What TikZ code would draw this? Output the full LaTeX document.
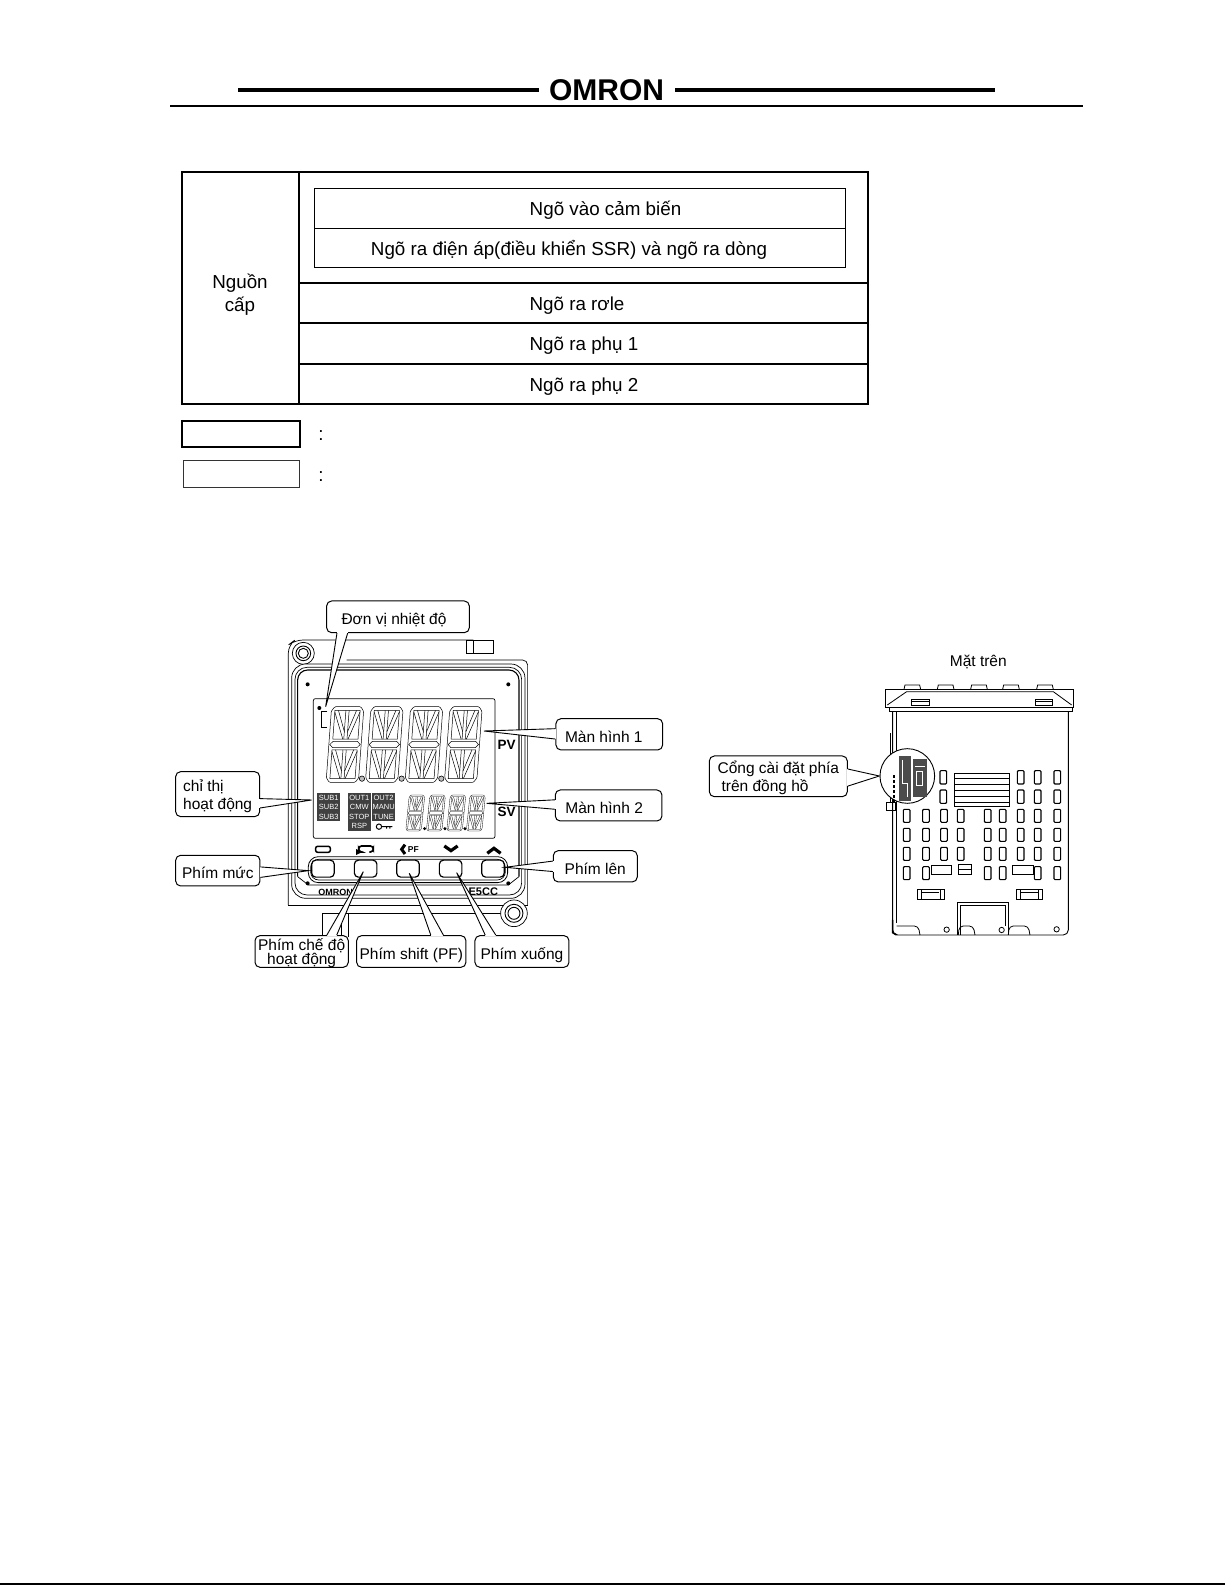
\documentclass[tikz,border=0pt]{standalone}
\usepackage{fontspec}
\setmainfont{Liberation Sans}
\tikzset{thick line/.style={line width=2.6pt}}
\tikzset{thin line/.style={line width=1pt}}
\tikzset{table text/.style={font=\fontsize{18.8}{23}\selectfont, align=center}}
\tikzset{tag box/.style={draw, line width=1pt, rounded corners=5pt, fill=white, inner sep=0pt,
	text height=#1, text depth=2.5pt, font=\fontsize{15.5}{18}\selectfont},
	tag box/.default=18pt}
\tikzset{lamp/.style={fill=black!75, text=white, inner sep=0pt, minimum width=22.5, minimum height=9.2,
	font=\fontsize{7.5}{8}\selectfont}}
\tikzset{key button/.style={draw, line width=1.2pt, rounded corners=4pt, inner sep=0pt, minimum width=22.5, minimum height=17}}
\tikzset{slot/.style={line width=1.1pt, rounded corners=1pt}}
\tikzset{digit/.pic={
	\draw[rounded corners=1pt] (.1,0)--(.9,0)--(1,.06)--(1,.94)--(.9,1)--(.1,1)--(0,.94)--(0,.06)--cycle;
	\draw (.03,.5)--(.12,.46)--(.88,.46)--(.97,.5)--(.88,.54)--(.12,.54)--cycle;
	\foreach \up in {0,.52} { % upper and lower half of the digit
		\draw (.11,\up+.05)--(.89,\up+.05)--(.89,\up+.43)--(.11,\up+.43)--cycle;
		\draw (.11,\up+.07)--(.42,\up+.43) (.22,\up+.05)--(.45,\up+.33);
		\draw (.89,\up+.07)--(.58,\up+.43) (.78,\up+.05)--(.55,\up+.33);
		\draw (.45,\up+.05)--(.45,\up+.43) (.55,\up+.05)--(.55,\up+.43);
	}
}}

\begin{document}
\begin{tikzpicture}[x=1pt, y=-1pt]
	\useasboundingbox (0,0) rectangle (1225,1585);

	% header
	\draw[line width=4.5pt] (238,90) -- (539,90);
	\draw[line width=4.5pt] (675,90) -- (995,90);
	\draw[line width=1.8pt] (170,106) -- (1083,106);
	\node[font=\fontsize{30}{30}\selectfont\bfseries, inner sep=0pt] (logo) at (606.5,90) {OMRON};
	\draw[line width=1.5pt] (0,1584) -- (1225,1584);

	% table of terminals
	\draw[thick line] (182,172) rectangle (868,404);
	\draw[thick line] (299,172) -- (299,404);
	\draw[thick line] (299,283) -- (868,283);
	\draw[thick line] (299,323) -- (868,323);
	\draw[thick line] (299,364) -- (868,364);
	\draw[thin line] (314,188) rectangle (845,267);
	\draw[thin line] (314,228) -- (845,228);
	\node[table text] (power) at (240,295) {Nguồn\\cấp};
	\node[table text] (sensor) at (605.5,210) {Ngõ vào cảm biến};
	\node[table text] (voltage) at (569,249.5) {Ngõ ra điện áp(điều khiển SSR) và ngõ ra dòng};
	\node[table text] (relay) at (577,306) {Ngõ ra rơle};
	\node[table text] (aux1) at (584,345.5) {Ngõ ra phụ 1};
	\node[table text] (aux2) at (584,387) {Ngõ ra phụ 2};
	\draw[thick line] (182,421) rectangle (300,447);
	\draw[thin line, black!80] (183,460) rectangle (299,487);
	\node[table text] (colon1) at (321,436) {:};
	\node[table text] (colon2) at (321,477) {:};

	% front panel, numbers read off the crop at 3x
	\begin{scope}[shift={(160,590)}, x=.3333pt, y=-.3333pt]
		\draw[line width=.7pt, rounded corners=8pt] (385,945) -- (385,165) -- (405,150) -- (940,150);
		\draw[line width=.7pt] (920,150) rectangle (1000,190) (940,150) -- (940,190);
		\draw[line width=.7pt, rounded corners=5pt] (560,210) -- (1103,210) -- (1103,945);
		\draw[line width=.7pt] (385,945) -- (1103,945);
		\draw[line width=.7pt] (488,1040) -- (488,970) -- (1030,970);
		\draw[line width=.7pt] (565,970) -- (565,1040) (545,970) -- (545,1040);
		\draw[line width=.7pt, fill=white] (430,190) circle[radius=33];
		\draw[line width=.9pt] (430,190) circle[radius=22] (430,190) circle[radius=15];
		\draw[line width=.7pt, fill=white] (1062,970) circle[radius=40];
		\draw[line width=.9pt] (1062,970) circle[radius=27] (1062,970) circle[radius=18];
		\draw[line width=.7pt, fill=white, rounded corners=14pt] (395,222) rectangle (1095,925);
		\draw[line width=.7pt, rounded corners=12pt] (405,232) rectangle (1085,915);
		\draw[line width=1.1pt, rounded corners=10pt] (413,860) -- (413,240) -- (1077,240) -- (1077,860);
		\draw[line width=.7pt] (413,860) -- (445,885) -- (1045,885) -- (1077,860);
		\foreach \a/\b in {443/283, 1045/283, 443/880, 1045/880} {
			\fill (\a,\b) circle[radius=6];
		}
		\draw[line width=.7pt, rounded corners=2pt] (460,326) rectangle (1005,745);
		\foreach \a in {515,633,752,870} {
			\begin{scope}[shift={(\a,350)}, x=32.3pt, y={(-5.6pt,-75.7pt)}]
				\pic[line width=.5pt] {digit};
			\end{scope}
		}
		\foreach \a in {748,810,871,930} {
			\begin{scope}[shift={(\a,615)}, x=15.5pt, y={(-3.6pt,-36pt)}]
				\pic[line width=.3pt] {digit};
			\end{scope}
		}
		\foreach \a in {606,725,844} { % decimal points
			\draw[line width=.6pt, fill=black!25] (\a,566) circle[radius=8];
		}
		\foreach \a in {794,855,915} {
			\fill (\a,716) circle[radius=5];
		}
		\fill (478,354) circle[radius=6];
		\draw[line width=.7pt] (502,364) -- (484,364) -- (484,412) -- (502,412);
		\node[font=\fontsize{13.5}{14}\selectfont\bfseries, inner sep=0pt] (pv) at (1040,465) {PV};
		\node[font=\fontsize{13.5}{14}\selectfont\bfseries, inner sep=0pt] (sv) at (1040,667) {SV};
		% indicators
		\foreach \a/\b/\t in {506/624/SUB1, 506/652/SUB2, 506/680/SUB3, 598/624/OUT1, 598/652/CMW, 598/680/STOP, 598/708/RSP, 671/624/OUT2, 671/652/MANU, 671/680/TUNE} {
			\node[lamp] (lamp\t) at (\a,\b) {\t};
		}
		\draw[line width=1pt] (657,710) circle[radius=8] (665,710) -- (697,710) (680,710) -- (680,716) (690,710) -- (690,716);
		% key symbols
		\draw[line width=1.5pt, rounded corners=2pt] (467,769) rectangle (511,787);
		\draw[line width=1.7pt, rounded corners=3pt, -latex] (628,786) -- (640,786) -- (640,768) -- (596,768) -- (596,786) -- (612,786);
		\draw[line width=3pt] (735,764) -- (725,778) -- (735,792);
		\node[font=\fontsize{8.5}{9}\selectfont\bfseries, inner sep=0pt] (pf) at (760,779) {PF};
		\draw[line width=3.2pt] (853,768) -- (873,782) -- (893,768);
		\draw[line width=3.2pt] (982,790) -- (1002,775) -- (1022,790);
		% key strip
		\draw[line width=.8pt, rounded corners=10pt] (445,800) rectangle (1043,878);
		\draw[line width=.7pt, rounded corners=8pt] (452,808) rectangle (1036,870);
		\foreach \a/\n in {489/level, 617/mode, 744/shift, 872/down, 999/upkey} {
			\node[key button, fill=white] (\n) at (\a,836) {};
		}
		\node[font=\fontsize{9}{9}\selectfont\bfseries, inner sep=0pt] (brand) at (527,906) {OMRON};
		\node[font=\fontsize{11}{11}\selectfont\bfseries, inner sep=0pt] (model) at (970,905) {E5CC};

		% labels
		\node[tag box, minimum width=142.7, minimum height=31.7] (unit) at (714,80.5) {Đơn vị nhiệt độ\hspace*{8pt}};
		\node[tag box, minimum width=106.7, minimum height=31.3] (disp1) at (1348,433) {Màn hình 1\hspace*{11pt}};
		\node[tag box, minimum width=106.7, minimum height=31] (disp2) at (1346,646.5) {Màn hình 2\hspace*{9pt}};
		\node[tag box=33pt, minimum width=84, minimum height=45, align=left] (lamps) at (173,612.5) {chỉ thị\\hoạt động};
		\node[tag box, minimum width=84.3, minimum height=30.7] (klevel) at (173.5,842) {Phím mức};
		\node[tag box, minimum width=84, minimum height=31.3] (kup) at (1306,829) {Phím lên};
		\node[tag box=29pt, minimum width=93.3, minimum height=31.7, align=center, font=\fontsize{15.5}{12}\selectfont] (kmode) at (425,1084.5) {Phím chế độ\\hoạt động};
		\node[tag box, minimum width=109.3, minimum height=31.7] (kshift) at (754,1084.5) {Phím shift (PF)};
		\node[tag box, minimum width=94, minimum height=31.7] (kdown) at (1086,1084.5) {Phím xuống};
		\coordinate (tunit) at (497,350);
		\coordinate (tdisp1) at (972,423);
		\coordinate (tdisp2) at (980,640);
		\coordinate (tlamps) at (455,630);
		\coordinate (tklevel) at (445,842);
		\coordinate (tkup) at (1035,832);
		\coordinate (tkmode) at (610,845);
		\coordinate (tkshift) at (748,850);
		\coordinate (tkdown) at (890,848);
		\foreach \n/\a/\b in {unit/195.3/198.3, disp1/174.6/185, disp2/174.8/184.8, lamps/354.3/342.6, klevel/5.4/351.9, kup/173.7/187.2, kmode/33.4/25.4, kshift/40.3/27.6, kdown/156.8/148} {
			\fill[white] (\n.\a) -- (t\n) -- (\n.\b) -- cycle;
			\draw[white, line width=1.5pt] (\n.\a) -- (\n.\b);
			\draw[line width=.9pt] (\n.\a) -- (t\n) -- (\n.\b);
		}
	\end{scope}

	% top view
	\begin{scope}[shift={(700,640)}, x=.3333pt, y=-.3333pt]
		\node[font=\fontsize{15.5}{18}\selectfont] (topface) at (835,67) {Mặt trên};
		\foreach \a in {612,712,812,908,1010} {
			\draw[line width=.8pt] (\a,148) -- (\a+3,135) -- (\a+47,135) -- (\a+50,148);
		}
		\draw[line width=1.6pt] (557,148) -- (1120,148);
		\draw[line width=.8pt] (557,148) -- (557,203) -- (1120,203) -- (1120,148);
		\draw[line width=.8pt] (568,203) -- (568,215) -- (1116,215) -- (1116,203);
		\draw[line width=.8pt] (562,195) -- (620,155) (1115,195) -- (1060,155) (620,155) -- (1060,155);
		\draw[line width=.8pt] (635,177) rectangle (688,197) (635,185) -- (688,185);
		\draw[line width=.8pt] (1005,177) rectangle (1058,197) (1005,185) -- (1058,185);
		% body
		\draw[line width=.9pt, rounded corners=5pt] (578,215) -- (578,885) -- (1105,885) -- (1105,215);
		\draw[line width=.9pt] (590,215) -- (590,850);
		\draw[line width=1.6pt] (578,840) -- (578,878) -- (590,885);
		\draw[line width=.8pt] (570,280) -- (570,490);
		\draw[line width=.8pt] (558,488) rectangle (585,510);
		\draw[line width=.8pt, rounded corners=4pt] (590,858) -- (655,858) -- (660,885) (775,885) -- (778,858) -- (820,858) -- (825,885) (925,885) -- (928,858) -- (985,858) -- (990,885);
		\draw[line width=.8pt] (740,869) circle[radius=8] (905,870) circle[radius=8] (1070,868) circle[radius=8];
		\draw[line width=1.3pt] (772,885) -- (772,787) -- (925,787) -- (925,885);
		\draw[line width=.6pt] (780,885) -- (780,796) -- (917,796) -- (917,858);
		% slots
		\foreach \a in {720,952,1003,1062} {
			\foreach \b in {392,450} {
				\draw[slot] (\a,\b) rectangle ++(20,40);
			}
		}
		\foreach \a in {610,668,722,772,853,898,952,1003,1062} {
			\foreach \b in {508,565,622} {
				\draw[slot] (\a,\b) rectangle ++(20,39);
			}
		}
		\foreach \a in {610,668,853,898,1003,1062} {
			\draw[slot] (\a,680) rectangle ++(20,39);
		}
		\draw[line width=.8pt] (695,675) rectangle (755,703);
		\draw[line width=.8pt] (775,672) rectangle (815,702) (775,688) -- (815,688);
		\draw[line width=.8pt] (937,675) rectangle (1000,703);
		% grille
		\draw[line width=.5pt] (763,400) rectangle (927,500);
		\draw[line width=1.2pt] (763,416) -- (927,416) (763,452) -- (927,452) (763,469) -- (927,469) (763,487) -- (927,487);
		\draw[line width=.5pt] (763,434) -- (927,434);
		% clips
		\foreach \a in {652,948} {
			\draw[line width=.8pt] (\a,748) rectangle ++(80,30);
			\draw[line width=.8pt] (\a+12,748) -- (\a+12,778) (\a+68,748) -- (\a+68,778) (\a+14,757) -- (\a+66,757);
		}
		% port
		\draw[line width=.9pt, fill=white] (622,408) circle[radius=82];
		\fill[black!70] (598,347) rectangle (632,482);
		\fill[black!70] (640,358) rectangle (680,470);
		\draw[white, line width=.6pt] (608,360) -- (608,430) -- (622,430) -- (622,470);
		\draw[white, line width=.8pt] (650,395) rectangle (668,435);
		\draw[white, line width=.6pt] (645,378) -- (675,378);
		\foreach \b in {405,420,435,450,465,480} {
			\fill (579,\b) rectangle ++(5,8);
		}
		\node[tag box=33.5pt, minimum width=138, minimum height=40.7, align=left] (portlabel) at (235,409) {Cổng cài đặt phía\\\hspace*{4pt}trên đồng hồ};
		\coordinate (tportlabel) at (538,408);
		\foreach \n/\a/\b in {portlabel/6.6/352} {
			\fill[white] (\n.\a) -- (t\n) -- (\n.\b) -- cycle;
			\draw[white, line width=1.5pt] (\n.\a) -- (\n.\b);
			\draw[line width=.9pt] (\n.\a) -- (t\n) -- (\n.\b);
		}
	\end{scope}
\end{tikzpicture}
\end{document}
